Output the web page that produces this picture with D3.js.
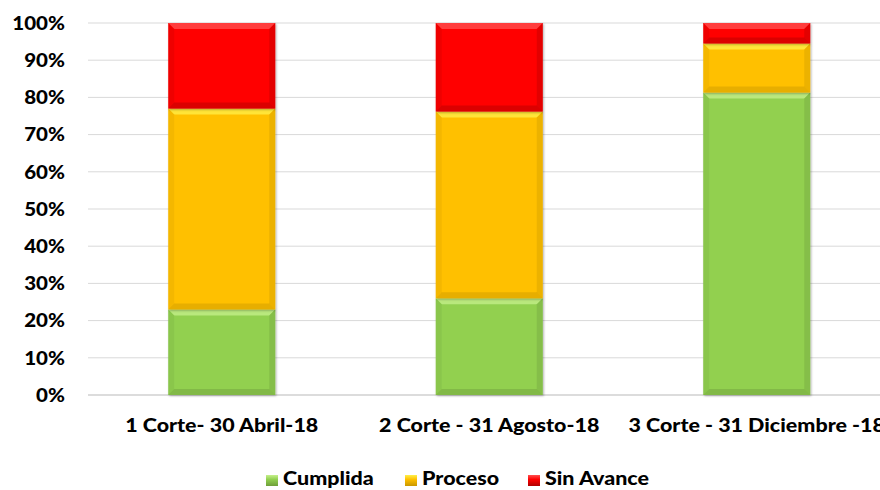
<!DOCTYPE html>
<html><head><meta charset="utf-8">
<script src="https://cdn.jsdelivr.net/npm/d3@7/dist/d3.min.js"></script>
<style>body{margin:0;background:#fff;}svg{display:block;}</style>
</head><body>
<svg id="c" width="880" height="490"></svg>
<script>
const categories = ["1 Corte- 30 Abril-18", "2 Corte - 31 Agosto-18", "3 Corte - 31 Diciembre -18"];
const seriesNames = ["Cumplida", "Proceso", "Sin Avance"];
const cumplida = [23, 26, 81.3];
const proceso = [54, 50.2, 13.2];
const sinAvance = [23, 23.8, 5.5];
const yTicks = [0, 10, 20, 30, 40, 50, 60, 70, 80, 90, 100];
const colors = ["#92D050", "#FFC000", "#FF0000"];
const lightColors = ["#C6F08C", "#FFF04A", "#FF5050"];
const darkColors = ["#6E9E3A", "#C99800", "#B00000"];

const svg = d3.select("#c");
const font = "Lato, 'Open Sans', sans-serif";
const x = d3.scaleBand().domain(categories).range([88, 890.5]).paddingInner(0.6).paddingOuter(0.3);
const y = d3.scaleLinear().domain([0, 100]).range([395, 23]);

// fit text width helper (text-only styling)
function fit(sel, perChar) {
  sel.each(function() {
    const t = d3.select(this);
    const w = this.getComputedTextLength();
    const target = perChar(t.text(), w);
    if (target) t.attr("textLength", target).attr("lengthAdjust", "spacingAndGlyphs");
  });
}

// gridlines
svg.append("g").selectAll("line").data(yTicks).join("line")
  .attr("x1", 88).attr("x2", 880)
  .attr("y1", d => y(d)).attr("y2", d => y(d))
  .attr("stroke", d => d === 0 ? "#d0d0d0" : "#d9d9d9").attr("stroke-width", d => d === 0 ? 1.5 : 1);

// y labels
const yl = svg.append("g").selectAll("text").data(yTicks).join("text")
  .attr("x", 65).attr("y", d => y(d)).attr("dy", "0.36em")
  .attr("text-anchor", "end").attr("font-family", font).attr("font-weight", 900)
  .attr("font-size", 19).attr("fill", "#000").text(d => d + "%");
fit(yl, (s, w) => w * 1.08);

// stacked data
const rows = categories.map((c, i) => ({cat: c, Cumplida: cumplida[i], Proceso: proceso[i], "Sin Avance": sinAvance[i]}));
const stacked = d3.stack().keys(seriesNames)(rows);

const defs = svg.append("defs");
const f = defs.append("filter").attr("id", "sh").attr("x", "-10%").attr("y", "-10%").attr("width", "130%").attr("height", "130%");
f.append("feDropShadow").attr("dx", 1).attr("dy", 1).attr("stdDeviation", 1.2).attr("flood-color", "#000").attr("flood-opacity", 0.3);

const bw = x.bandwidth();
stacked.forEach((s, si) => {
  const g = svg.append("g");
  s.forEach((d, i) => {
    const x0 = x(categories[i]);
    const top = y(d[1]), bot = y(d[0]);
    const h = bot - top;
    const b = Math.min(6, h / 3);
    const gg = g.append("g").attr("filter", "url(#sh)");
    gg.append("rect").attr("x", x0).attr("y", top).attr("width", bw).attr("height", h).attr("fill", colors[si]);
    gg.append("path").attr("d", `M${x0},${top}L${x0+bw},${top}L${x0+bw-b},${top+b}L${x0+b},${top+b}Z`).attr("fill", lightColors[si]).attr("opacity", 0.75);
    gg.append("path").attr("d", `M${x0},${bot}L${x0+bw},${bot}L${x0+bw-b},${bot-b}L${x0+b},${bot-b}Z`).attr("fill", darkColors[si]).attr("opacity", 0.45);
    gg.append("path").attr("d", `M${x0},${top}L${x0+b},${top+b}L${x0+b},${bot-b}L${x0},${bot}Z`).attr("fill", darkColors[si]).attr("opacity", 0.2);
    gg.append("path").attr("d", `M${x0+bw},${top}L${x0+bw-b},${top+b}L${x0+bw-b},${bot-b}L${x0+bw},${bot}Z`).attr("fill", darkColors[si]).attr("opacity", 0.35);
  });
});

// x labels
const xl = svg.append("g").selectAll("text").data(categories).join("text")
  .attr("x", d => x(d) + bw / 2).attr("y", 432)
  .attr("text-anchor", "middle").attr("font-family", font).attr("font-weight", 900)
  .attr("font-size", 19.5).attr("fill", "#000").text(d => d);
fit(xl, (s, w) => w * 1.1);

// legend
const legX = [266, 405, 528];
const lg = svg.append("g");
seriesNames.forEach((n, i) => {
  const lgr = defs.append("linearGradient").attr("id", "lg" + i).attr("x1", 0).attr("y1", 0).attr("x2", 0).attr("y2", 1);
  lgr.append("stop").attr("offset", 0).attr("stop-color", lightColors[i]);
  lgr.append("stop").attr("offset", 0.4).attr("stop-color", colors[i]);
  lgr.append("stop").attr("offset", 1).attr("stop-color", darkColors[i]);
  lg.append("rect").attr("x", legX[i]).attr("y", 475).attr("width", 12).attr("height", 11).attr("fill", `url(#lg${i})`);
  const t = lg.append("text").attr("x", legX[i] + 17).attr("y", 485)
    .attr("font-family", font).attr("font-weight", 900).attr("font-size", 19.5).attr("fill", "#000").text(n);
  fit(t, (s, w) => w * 1.1);
});
</script>
</body></html>
